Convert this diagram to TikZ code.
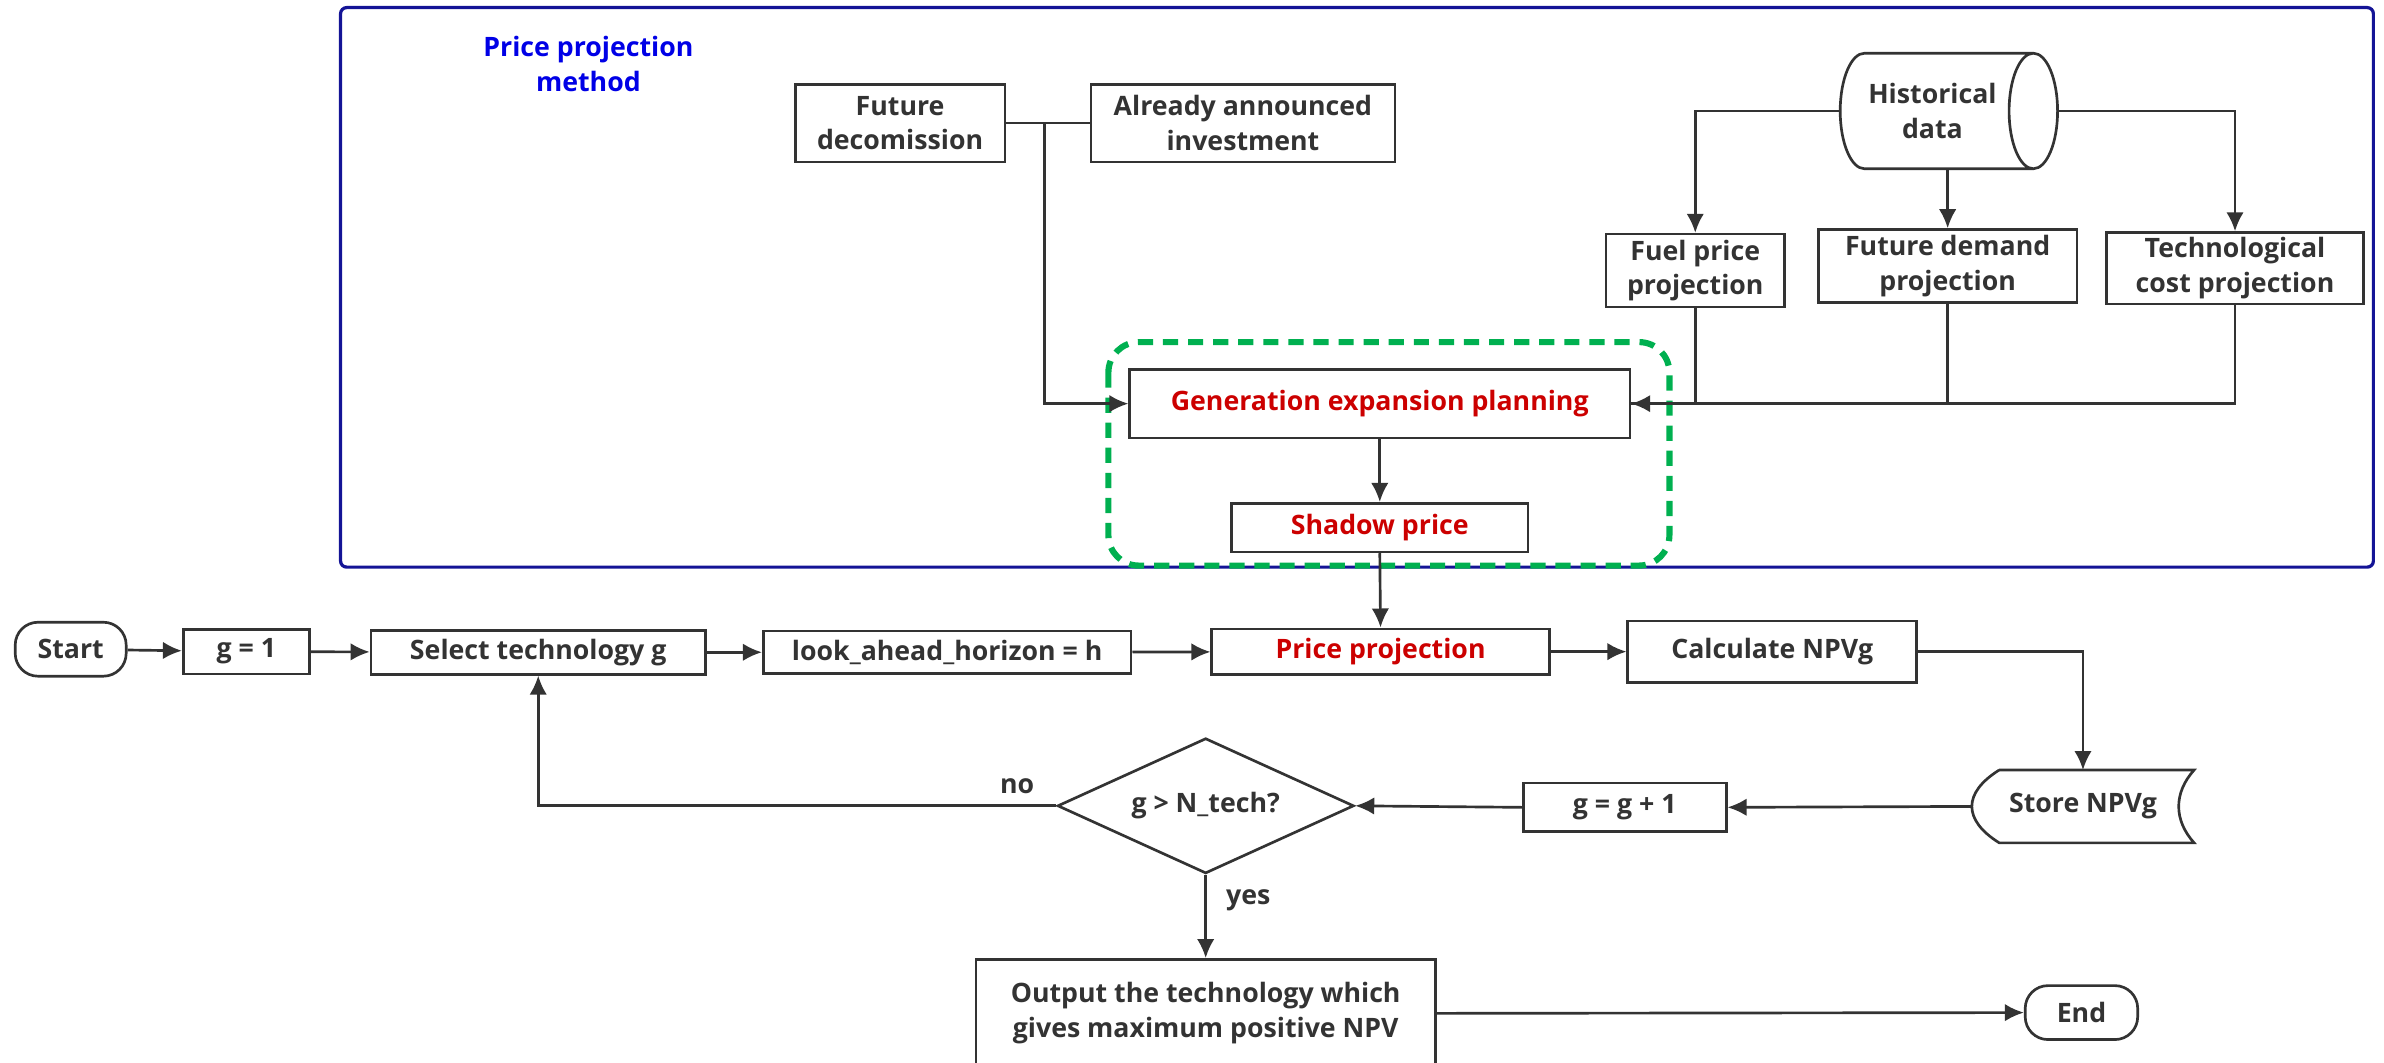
\documentclass[tikz,border=0pt]{standalone}
\usepackage{fontspec}
\setmainfont{Open Sans}
\usetikzlibrary{shapes.geometric,arrows.meta,positioning}
\definecolor{linegray}{RGB}{51,51,51}
\definecolor{framenavy}{RGB}{20,20,150}
\definecolor{titleblue}{RGB}{0,0,230}
\definecolor{keyred}{RGB}{204,0,0}
\definecolor{groupgreen}{RGB}{0,176,80}

\begin{document}
\begin{tikzpicture}[
        x=0.02cm, y=-0.02cm,
        >={Latex[length=2.5mm,width=2.3mm]},
        font=\fontsize{10}{13}\selectfont\bfseries,
        % box styles
        block/.style={
            rectangle,
            draw=linegray,
            fill=white,
            text=linegray,
            line width=1pt,
            inner sep=1pt,
            align=center
        },
        terminal/.style={block, rounded corners=0.3cm},
        key_text/.style={text=keyred},
        title_text/.style={text=titleblue, align=center},
        % connector styles
        arrow_flow/.style={->, draw=linegray, line width=1pt},
        line_flow/.style={draw=linegray, line width=1pt},
        frame_line/.style={draw=framenavy, line width=1.2pt, rounded corners=0.08cm},
        group_line/.style={draw=groupgreen, line width=2.3pt, rounded corners=0.4cm,
            dash pattern=on 0.2cm off 0.13cm}
    ]

    \useasboundingbox (0,0) rectangle (1568,699);

    % --- 1. price projection method frame ---
    \draw[frame_line] (224,5) rectangle (1561,373);
    \node (title) [title_text] at (387,42) {Price projection\\method};
    \draw[group_line] (729,225) rectangle (1098,372);

    \node (decom) [block, minimum width=2.76cm, minimum height=1.02cm] at (592,81) {Future\\decomission};
    \node (announced) [block, minimum width=4.0cm, minimum height=1.02cm] at (817.5,81) {Already announced\\investment};
    \node (hist) [cylinder, draw=linegray, fill=white, text=linegray, line width=1pt, aspect=0.8,
        minimum width=1.52cm, minimum height=2.86cm, align=center, inner sep=1pt] at (1271,73) {Historical\\data};
    \node (fuel) [block, minimum width=2.35cm, minimum height=0.96cm] at (1115,178) {Fuel price\\projection};
    \node (demand) [block, minimum width=3.4cm, minimum height=0.96cm] at (1281,175) {Future demand\\projection};
    \node (tech) [block, minimum width=3.38cm, minimum height=0.94cm] at (1470,176.5) {Technological\\cost projection};
    \node (gep) [block, key_text, minimum width=6.58cm, minimum height=0.9cm] at (907.5,265.5) {Generation expansion planning};
    \node (shadow) [block, key_text, minimum width=3.9cm, minimum height=0.64cm] at (907.5,347) {Shadow price};

    \coordinate (jn) at (687,81);
    \draw[line_flow] (decom.east) -- (announced.west);
    \draw[arrow_flow] (jn) |- (gep.west);

    \draw[arrow_flow] (hist.west) -| (fuel.north);
    \draw[arrow_flow] (hist.south -| demand.north) -- (demand.north);
    \draw[arrow_flow] (hist.east) -| (tech.north);

    \draw[line_flow] (tech.south) |- (gep.east);
    \draw[line_flow] (demand.south) |- (gep.east);
    \draw[arrow_flow] (fuel.south) |- (gep.east);
    \draw[arrow_flow] (gep.south) -- (shadow.north);

    % --- 2. main loop ---
    \node (start) [terminal, minimum width=1.46cm, minimum height=0.71cm] at (46.5,427) {Start};
    \node (g_one) [block, minimum width=1.66cm, minimum height=0.59cm] at (162,428.6) {g = 1};
    \node (select) [block, minimum width=4.4cm, minimum height=0.58cm] at (354,429) {Select technology g};
    \node (look) [block, minimum width=4.84cm, minimum height=0.56cm] at (623,429) {look\_ahead\_horizon = h};
    \node (price) [block, key_text, minimum width=4.44cm, minimum height=0.6cm] at (908,428.6) {Price projection};
    \node (calc) [block, minimum width=3.8cm, minimum height=0.81cm] at (1165.6,428.6) {Calculate NPVg};
    \node (store) [text=linegray, minimum width=2.91cm, minimum height=0.944cm, inner sep=1pt] at (1370,530.4) {Store NPVg};
    \draw[line_flow] ([xshift=0.36cm]store.north west) -- (store.north east)
        .. controls +(-0.27cm,-0.3cm) and +(-0.27cm,0.3cm) .. (store.south east)
        -- ([xshift=0.36cm]store.south west)
        .. controls +(-0.48cm,0.3cm) and +(-0.48cm,-0.3cm) .. ([xshift=0.36cm]store.north west);
    \node (g_next) [block, minimum width=2.67cm, minimum height=0.64cm] at (1068.6,531) {g = g + 1};
    \node (check) [diamond, draw=linegray, fill=white, text=linegray, line width=1pt, aspect=2.2,
        minimum width=3.9cm, minimum height=1.78cm, inner sep=0pt] at (793,530) {g > N\_tech?};
    \node (output) [block, minimum width=6.04cm, minimum height=1.42cm] at (793,666.5) {Output the technology which\\gives maximum positive NPV};
    \node (finish) [terminal, minimum width=1.48cm, minimum height=0.71cm] at (1369,666) {End};

    \draw[arrow_flow] (shadow.south) -- (price.north);
    \draw[arrow_flow] (start) -- (g_one);
    \draw[arrow_flow] (g_one) -- (select);
    \draw[arrow_flow] (select) -- (look);
    \draw[arrow_flow] (look) -- (price);
    \draw[arrow_flow] (price) -- (calc);
    \draw[arrow_flow] (calc.east) -| (store.north);
    \draw[arrow_flow] (store.west) -- (g_next.east);
    \draw[arrow_flow] (g_next.west) -- (check.east);
    \draw[arrow_flow] (check.west) -| (select.south);
    \node (lbl_no) [text=linegray] at (669,517) {no};
    \draw[arrow_flow] (check.south) -- (output.north);
    \node (lbl_yes) [text=linegray] at (821,592) {yes};
    \draw[arrow_flow] (output.east) -- (finish.west);

\end{tikzpicture}
\end{document}
